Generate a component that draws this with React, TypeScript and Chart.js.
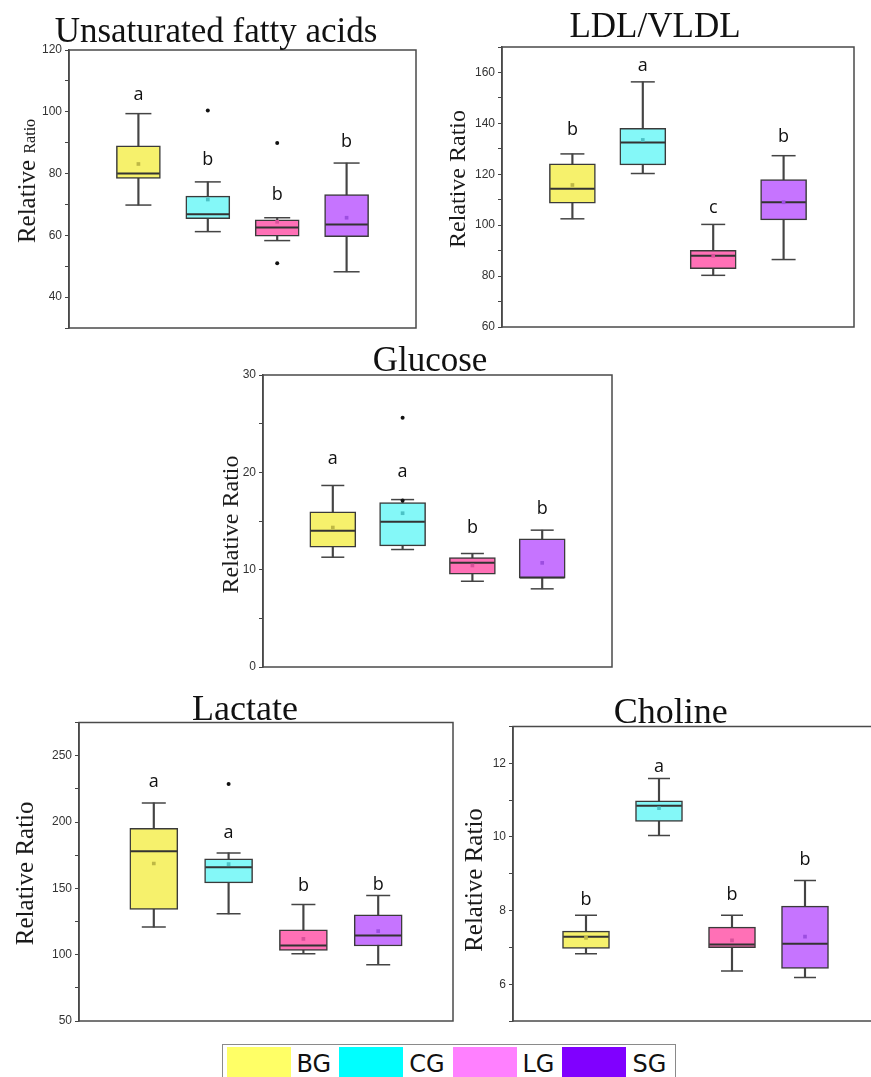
import React, { useEffect, useRef } from 'react';
import { Chart, registerables } from 'chart.js';

Chart.register(...registerables);

// ---------- shared ----------
const groups = ['BG', 'CG', 'LG', 'SG'];
const boxFill = ['#f6f16c', '#84f8f8', '#ff70b6', '#c674ff'];
const meanFill = ['#beb845', '#4cc2c6', '#d8509a', '#9c4ee0'];
const legendColors = ['#ffff66', '#00ffff', '#ff80ff', '#8000ff'];

// ---------- Unsaturated fatty acids ----------
const ufaMin = [69.8, 61.2, 58.3, 48.2];
const ufaQ1 = [78.4, 65.4, 59.7, 59.6];
const ufaMedian = [80.0, 66.8, 62.5, 63.5];
const ufaQ3 = [89.0, 72.7, 65.0, 73.2];
const ufaMax = [99.4, 77.3, 65.7, 83.4];
const ufaMean = [83.1, 71.6, 64.4, 65.7];
const ufaOutliers = [[], [100.4], [89.9, 51.0], []];
const ufaLetters = ['a', 'b', 'b', 'b'];
const ufaLetterY = [103.9, 82.9, 71.3, 88.5];

// ---------- LDL/VLDL ----------
const ldlMin = [102.5, 120.3, 80.3, 86.5];
const ldlQ1 = [108.6, 123.7, 82.9, 102.1];
const ldlMedian = [114.3, 132.5, 88.0, 109.0];
const ldlQ3 = [124.1, 138.0, 90.1, 117.9];
const ldlMax = [128.0, 156.3, 100.3, 127.3];
const ldlMean = [115.8, 133.5, 88.0, 109.0];
const ldlOutliers = [[], [], [], []];
const ldlLetters = ['b', 'a', 'c', 'b'];
const ldlLetterY = [135.6, 160.7, 104.9, 132.8];

// ---------- Glucose ----------
const gluMin = [11.28, 12.07, 8.81, 8.03];
const gluQ1 = [12.31, 12.45, 9.53, 9.12];
const gluMedian = [14.0, 14.92, 10.7, 9.19];
const gluQ3 = [15.94, 16.9, 11.25, 13.17];
const gluMax = [18.65, 17.2, 11.66, 14.06];
const gluMean = [14.33, 15.8, 10.43, 10.7];
const gluOutliers = [[], [25.6, 17.1], [], []];
const gluLetters = ['a', 'a', 'b', 'b'];
const gluLetterY = [20.9, 19.5, 13.8, 15.7];

// ---------- Lactate ----------
const lacMin = [120.8, 130.8, 100.7, 92.4];
const lacQ1 = [134.1, 154.1, 103.2, 106.5];
const lacMedian = [178.0, 165.9, 106.9, 114.5];
const lacQ3 = [195.3, 172.2, 118.7, 130.0];
const lacMax = [214.4, 176.7, 137.8, 144.6];
const lacMean = [168.7, 168.2, 111.9, 117.8];
const lacOutliers = [[], [228.7], [], []];
const lacLetters = ['a', 'a', 'b', 'b'];
const lacLetterY = [226.2, 188.0, 147.9, 148.4];

// ---------- Choline ----------
const choMin = [6.83, 10.04, 6.36, 6.18];
const choQ1 = [6.97, 10.42, 6.99, 6.43];
const choMedian = [7.29, 10.85, 7.08, 7.10];
const choQ3 = [7.44, 10.98, 7.55, 8.12];
const choMax = [7.87, 11.59, 7.87, 8.82];
const choMean = [7.26, 10.78, 7.19, 7.29];
const choOutliers = [[], [], [], []];
const choLetters = ['b', 'a', 'b', 'b'];
const choLetterY = [8.16, 11.77, 8.28, 9.24];

// ---------- axis ranges: min, max, minor step, major step ----------
const ufaAxis = [30, 120, 10, 20];
const ldlAxis = [60, 170, 10, 20];
const gluAxis = [0, 30, 5, 10];
const lacAxis = [50, 275, 25, 50];
const choAxis = [5, 13, 1, 2];

type Part = { text: string; size: number };
type PanelCfg = {
  title: string;
  titleX: number;
  titleY: number;
  titleSize: number;
  yLabelX: number;
  yLabelY: number;
  yLabel: Part[];
  canvas: { left: number; top: number; w: number; h: number };
  area: { L: number; T: number; R: number; B: number };
  boxWidth: number;
  capRadius: number;
  axis: number[];
  min: number[];
  q1: number[];
  median: number[];
  q3: number[];
  max: number[];
  mean: number[];
  outliers: number[][];
  letters: string[];
  letterY: number[];
};

const panels: PanelCfg[] = [
  {
    title: 'Unsaturated fatty acids', titleX: 216, titleY: 41.7, titleSize: 35,
    yLabelX: 26.7, yLabelY: 181,
    yLabel: [{ text: 'Relative ', size: 25 }, { text: 'Ratio', size: 16 }],
    canvas: { left: 0, top: 0, w: 440, h: 340 },
    area: { L: 69, T: 50, R: 416, B: 328 },
    boxWidth: 44, capRadius: 13, axis: ufaAxis,
    min: ufaMin, q1: ufaQ1, median: ufaMedian, q3: ufaQ3, max: ufaMax, mean: ufaMean,
    outliers: ufaOutliers, letters: ufaLetters, letterY: ufaLetterY,
  },
  {
    title: 'LDL/VLDL', titleX: 655, titleY: 37.3, titleSize: 35,
    yLabelX: 456.7, yLabelY: 179,
    yLabel: [{ text: 'Relative Ratio', size: 24 }],
    canvas: { left: 435, top: 0, w: 436, h: 340 },
    area: { L: 502, T: 47, R: 854, B: 327 },
    boxWidth: 46, capRadius: 12, axis: ldlAxis,
    min: ldlMin, q1: ldlQ1, median: ldlMedian, q3: ldlQ3, max: ldlMax, mean: ldlMean,
    outliers: ldlOutliers, letters: ldlLetters, letterY: ldlLetterY,
  },
  {
    title: 'Glucose', titleX: 430, titleY: 370.7, titleSize: 35,
    yLabelX: 230, yLabelY: 524.5,
    yLabel: [{ text: 'Relative Ratio', size: 24 }],
    canvas: { left: 200, top: 335, w: 430, h: 345 },
    area: { L: 263, T: 375, R: 612, B: 667 },
    boxWidth: 46, capRadius: 11.5, axis: gluAxis,
    min: gluMin, q1: gluQ1, median: gluMedian, q3: gluQ3, max: gluMax, mean: gluMean,
    outliers: gluOutliers, letters: gluLetters, letterY: gluLetterY,
  },
  {
    title: 'Lactate', titleX: 245, titleY: 720, titleSize: 36,
    yLabelX: 25, yLabelY: 873.3,
    yLabel: [{ text: 'Relative Ratio', size: 25 }],
    canvas: { left: 0, top: 680, w: 470, h: 355 },
    area: { L: 79, T: 722.5, R: 453, B: 1021 },
    boxWidth: 48, capRadius: 12, axis: lacAxis,
    min: lacMin, q1: lacQ1, median: lacMedian, q3: lacQ3, max: lacMax, mean: lacMean,
    outliers: lacOutliers, letters: lacLetters, letterY: lacLetterY,
  },
  {
    title: 'Choline', titleX: 670.8, titleY: 722.7, titleSize: 36,
    yLabelX: 474, yLabelY: 880,
    yLabel: [{ text: 'Relative Ratio', size: 25 }],
    canvas: { left: 455, top: 680, w: 440, h: 355 },
    area: { L: 513, T: 726.5, R: 878, B: 1021 },
    boxWidth: 47, capRadius: 11, axis: choAxis,
    min: choMin, q1: choQ1, median: choMedian, q3: choQ3, max: choMax, mean: choMean,
    outliers: choOutliers, letters: choLetters, letterY: choLetterY,
  },
];

function BoxPanel({ cfg }: { cfg: PanelCfg }) {
  const ref = useRef<HTMLCanvasElement | null>(null);

  useEffect(() => {
    const c = cfg;
    const cv = c.canvas;
    const xs = groups.map((_, i) => i + 1);
    const whiskers = xs.map((x, i) => ({ x, y: [c.min[i], c.max[i]] }));
    const boxes = xs.map((x, i) => ({ x, y: [c.q1[i], c.q3[i]] }));
    const caps = xs.flatMap((x, i) => [{ x, y: c.min[i] }, { x, y: c.max[i] }]);
    const medians = xs.map((x, i) => ({ x, y: c.median[i] }));
    const means = xs.map((x, i) => ({ x, y: c.mean[i] }));
    const outliers = xs.flatMap((x, i) => c.outliers[i].map((v) => ({ x, y: v })));
    const [yMin, yMax, step, major] = c.axis;

    const textPlugin = {
      id: 'panelText',
      afterDatasetsDraw(chart: any) {
        const ctx = chart.ctx;
        const xS = chart.scales.x;
        const yS = chart.scales.y;
        ctx.save();
        ctx.fillStyle = '#111';
        ctx.font = '18px "Open Sans"';
        ctx.textAlign = 'center';
        ctx.textBaseline = 'alphabetic';
        c.letters.forEach((l, i) => {
          ctx.fillText(l, xS.getPixelForValue(i + 1), yS.getPixelForValue(c.letterY[i]));
        });
        ctx.restore();
      },
      afterDraw(chart: any) {
        const ctx = chart.ctx;
        const a = chart.chartArea;
        ctx.save();
        // frame
        ctx.strokeStyle = '#4a4a4a';
        ctx.lineWidth = 1.5;
        ctx.strokeRect(a.left, a.top, a.right - a.left, a.bottom - a.top);
        // title
        ctx.fillStyle = '#111';
        ctx.font = `${c.titleSize}px "Liberation Serif"`;
        ctx.textAlign = 'center';
        ctx.textBaseline = 'alphabetic';
        ctx.fillText(c.title, c.titleX - cv.left, c.titleY - cv.top);
        // y label
        let total = 0;
        let maxSize = 0;
        c.yLabel.forEach((p) => {
          ctx.font = `${p.size}px "Liberation Serif"`;
          total += ctx.measureText(p.text).width;
          maxSize = Math.max(maxSize, p.size);
        });
        const bx = c.yLabelX - cv.left + 0.33 * maxSize;
        const by = c.yLabelY - cv.top + total / 2;
        ctx.translate(bx, by);
        ctx.rotate(-Math.PI / 2);
        ctx.textAlign = 'left';
        ctx.fillStyle = '#1a1a1a';
        let off = 0;
        c.yLabel.forEach((p) => {
          ctx.font = `${p.size}px "Liberation Serif"`;
          ctx.fillText(p.text, off, 0);
          off += ctx.measureText(p.text).width;
        });
        ctx.restore();
      },
    };

    const chart = new Chart(ref.current as HTMLCanvasElement, {
      type: 'bar',
      data: {
        datasets: [
          {
            type: 'scatter',
            data: means,
            pointStyle: 'rect',
            pointRadius: 2.6,
            pointBackgroundColor: meanFill,
            pointBorderWidth: 0,
            order: 0,
          } as any,
          {
            type: 'scatter',
            data: outliers,
            pointStyle: 'circle',
            pointRadius: 2,
            pointBackgroundColor: '#111',
            pointBorderWidth: 0,
            order: 0,
          } as any,
          {
            type: 'scatter',
            data: medians,
            pointStyle: 'line',
            pointRadius: c.boxWidth / 2 - 0.75,
            pointBorderColor: '#333',
            pointBorderWidth: 2,
            order: 1,
          } as any,
          {
            type: 'scatter',
            data: caps,
            pointStyle: 'line',
            pointRadius: c.capRadius,
            pointBorderColor: '#444',
            pointBorderWidth: 1.5,
            order: 2,
          } as any,
          {
            type: 'bar',
            data: boxes,
            backgroundColor: boxFill,
            borderColor: '#3a3a3a',
            borderWidth: 1.5,
            borderSkipped: false,
            grouped: false,
            barThickness: c.boxWidth,
            order: 5,
          } as any,
          {
            type: 'bar',
            data: whiskers,
            backgroundColor: '#444',
            borderWidth: 0,
            grouped: false,
            barThickness: 1.5,
            order: 10,
          } as any,
        ],
      },
      options: {
        responsive: false,
        animation: false,
        events: [],
        layout: {
          autoPadding: false,
          padding: {
            left: 0,
            top: c.area.T - cv.top,
            right: cv.left + cv.w - c.area.R,
            bottom: cv.top + cv.h - c.area.B,
          },
        },
        plugins: {
          legend: { display: false },
          tooltip: { enabled: false },
          title: { display: false },
        },
        scales: {
          x: {
            type: 'linear',
            display: false,
            min: 0,
            max: 5,
            offset: false,
          },
          y: {
            type: 'linear',
            position: 'left',
            min: yMin,
            max: yMax,
            afterFit: (scale: any) => {
              scale.width = c.area.L - cv.left;
            },
            ticks: {
              stepSize: step,
              autoSkip: false,
              padding: 3,
              color: '#333',
              font: { family: '"Liberation Sans"', size: 12 },
              callback: (v: any) => {
                const n = Number(v);
                const r = Math.abs(n / major - Math.round(n / major));
                return r < 1e-6 ? String(n) : '';
              },
            },
            grid: {
              drawOnChartArea: false,
              drawTicks: true,
              tickLength: 4,
              color: '#444',
              lineWidth: 1,
            },
            border: { display: true, color: '#4a4a4a', width: 1.5 },
          },
        },
      } as any,
      plugins: [textPlugin],
    });
    return () => chart.destroy();
  }, [cfg]);

  const cv = cfg.canvas;
  return (
    <canvas
      ref={ref}
      width={cv.w}
      height={cv.h}
      style={{ position: 'absolute', left: cv.left, top: cv.top, width: cv.w, height: cv.h }}
    />
  );
}

function Legend() {
  return (
    <div
      style={{
        position: 'absolute',
        left: 222,
        top: 1044,
        width: 454,
        height: 44,
        border: '1.5px solid #8a8a8a',
        boxSizing: 'border-box',
        display: 'flex',
        alignItems: 'flex-start',
        paddingLeft: 3.5,
        paddingTop: 2,
        background: '#fff',
      }}
    >
      {groups.map((g, i) => (
        <div key={g} style={{ display: 'flex', alignItems: 'flex-start' }}>
          <div style={{ width: 64, height: 36, background: legendColors[i] }} />
          <span
            style={{
              marginLeft: 6,
              marginRight: 8,
              fontFamily: '"DejaVu Sans"',
              fontSize: 24,
              lineHeight: '30px',
              paddingTop: 2,
              color: '#111',
            }}
          >
            {g}
          </span>
        </div>
      ))}
    </div>
  );
}

export default function App() {
  return (
    <div
      style={{
        position: 'absolute',
        left: 0,
        top: 0,
        width: 871,
        height: 1077,
        overflow: 'hidden',
        background: '#fff',
      }}
    >
      {panels.map((p) => (
        <BoxPanel key={p.title} cfg={p} />
      ))}
      <Legend />
    </div>
  );
}
